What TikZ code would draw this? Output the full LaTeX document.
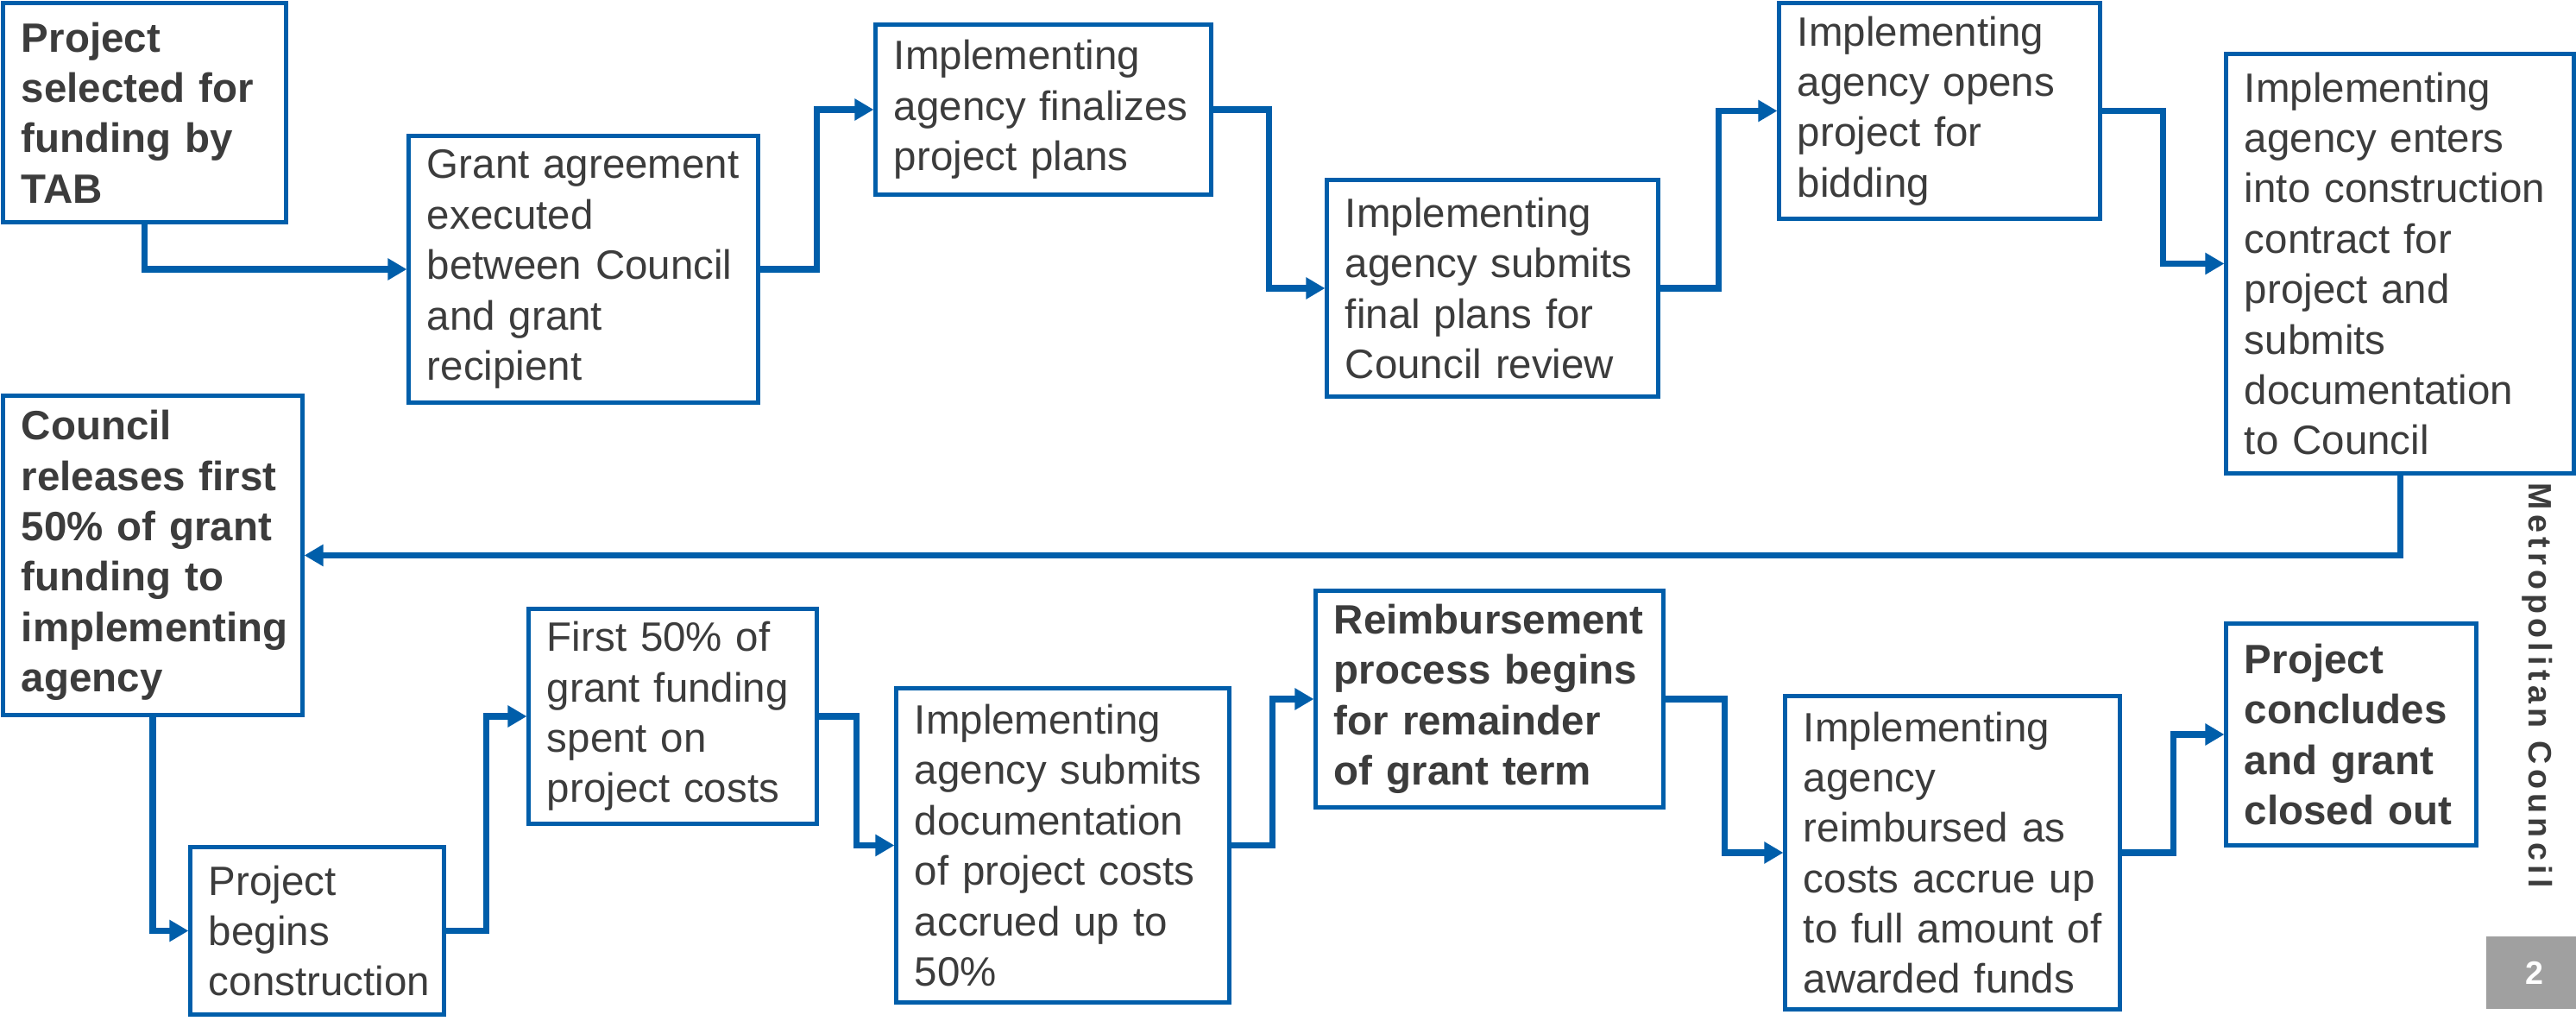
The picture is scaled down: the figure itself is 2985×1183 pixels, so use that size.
\documentclass[tikz,border=0pt]{standalone}
\usepackage{fontspec}
\setmainfont{Liberation Sans}
\usetikzlibrary{arrows.meta,calc}
\definecolor{mcblue}{RGB}{0,94,170}
\definecolor{mctext}{RGB}{60,60,60}
\definecolor{pgnum}{RGB}{160,160,160}

\begin{document}
\begin{tikzpicture}[x=0.01cm,y=-0.01cm,
  stagebox/.style 2 args={draw=mcblue,line width=1.4pt,fill=white,text=mctext,
    font=\fontsize{13.5}{16.6}\selectfont,align=left,inner xsep=0pt,
    minimum width=#1cm,text width=#1cm-0.42cm,minimum height=#2cm},
  keystage/.style={font=\fontsize{13.5}{16.6}\selectfont\bfseries},
  flow/.style={draw=mcblue,line width=2pt,-{Triangle[length=0.22cm,width=0.24cm]}},
  elbow/.style={to path={-| ($(\tikztostart)!.5!(\tikztotarget)$) |- (\tikztotarget)}}]
\useasboundingbox (0,0) rectangle (2985,1183);

    \node[stagebox={3.27}{2.53},keystage] (tab) at (167.5,130.5)
      {Project\\selected for\\funding by\\TAB};
    \node[stagebox={4.04}{3.08}] (agree) at (676,312)
      {Grant agreement\\executed\\between Council\\and grant\\recipient};
    \node[stagebox={3.88}{1.96}] (plans) at (1209,127)
      {Implementing\\agency finalizes\\project plans};
    \node[stagebox={3.83}{2.50}] (review) at (1729.5,334)
      {Implementing\\agency submits\\final plans for\\Council review};
    \node[stagebox={3.71}{2.49}] (bid) at (2247.5,128.5)
      {Implementing\\agency opens\\project for\\bidding};
    \node[stagebox={4.02}{4.86}] (contract) at (2781,305.5)
      {Implementing\\agency enters\\into construction\\contract for\\project and\\submits\\documentation\\to Council};

    \node[stagebox={3.46}{3.69},keystage] (release) at (177,643.5)
      {Council\\releases first\\50\% of grant\\funding to\\implementing\\agency};
    \node[stagebox={2.93}{1.93}] (begin) at (367.5,1078.5)
      {Project\\begins\\construction};
    \node[stagebox={3.33}{2.48}] (spent) at (779.5,830)
      {First 50\% of\\grant funding\\spent on\\project costs};
    \node[stagebox={3.85}{3.63}] (costs) at (1231.5,979.5)
      {Implementing\\agency submits\\documentation\\of project costs\\accrued up to\\50\%};
    \node[stagebox={4.02}{2.50},keystage] (reimb) at (1726,810)
      {Reimbursement\\process begins\\for remainder\\of grant term};
    \node[stagebox={3.87}{3.62}] (accrue) at (2262.5,988)
      {Implementing\\agency\\reimbursed as\\costs accrue up\\\mbox{to full amount of}\\awarded funds};
    \node[stagebox={2.89}{2.56},keystage] (close) at (2724.5,851)
      {Project\\concludes\\and grant\\closed out};

    \node[rotate=-90,text=mctext,
      font=\fontsize{10.7}{12}\selectfont\bfseries\addfontfeatures{LetterSpace=14}]
      (metro) at (2940,794) {Metropolitan Council};
    \node[fill=pgnum,text=white,font=\fontsize{10.7}{12}\selectfont\bfseries,
      minimum width=1.12cm,minimum height=0.84cm,inner sep=0pt] (page) at (2937,1127) {2};

    \draw[flow] (tab) |- (agree);
    \draw[flow] (agree.east) to[elbow] (plans.west);
    \draw[flow] (plans.east) to[elbow] (review.west);
    \draw[flow] (review.east) to[elbow] (bid.west);
    \draw[flow] (bid.east) to[elbow] (contract.west);
    \draw[flow] (contract) |- (release);
    \draw[flow] (release) |- (begin);
    \draw[flow] (begin.east) to[elbow] (spent.west);
    \draw[flow] (spent.east) to[elbow] (costs.west);
    \draw[flow] (costs.east) to[elbow] (reimb.west);
    \draw[flow] (reimb.east) to[elbow] (accrue.west);
    \draw[flow] (accrue.east) to[elbow] (close.west);
\end{tikzpicture}
\end{document}
